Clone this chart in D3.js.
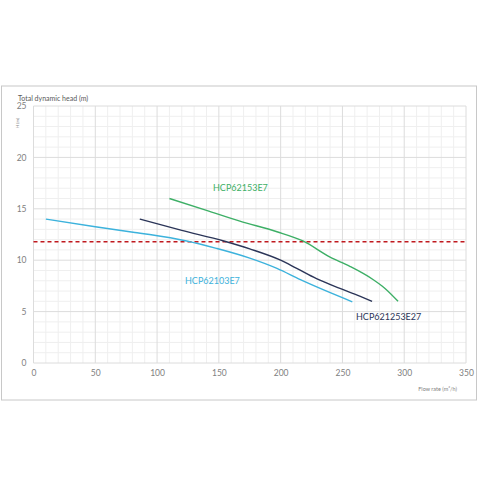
<!DOCTYPE html>
<html>
<head>
<meta charset="utf-8">
<script src="https://cdn.jsdelivr.net/npm/d3@7"></script>
<style>
  body { margin: 0; background: #fff; }
  text { font-family: Lato, "Open Sans", sans-serif; }
</style>
</head>
<body>
<div id="chart"></div>
<script>
// Pump curves (flow m3/h, head m)
const hcp62103Flow = [10, 50, 82, 94, 124, 148, 175, 197, 216, 258];
const hcp62103Head = [14.0, 13.25, 12.7, 12.5, 11.87, 11.15, 10.2, 9.2, 8.1, 5.95];

const hcp621253Flow = [86, 120, 154, 175, 200, 213, 229, 248, 264, 274];
const hcp621253Head = [14.0, 12.9, 11.87, 11.1, 10.0, 9.2, 8.2, 7.25, 6.5, 6.0];

const hcp62153Flow = [110, 140, 167, 197, 218, 240, 256, 275, 284, 295];
const hcp62153Head = [16.0, 14.85, 13.8, 12.77, 11.87, 10.3, 9.4, 8.1, 7.3, 6.0];

const dutyHead = 11.8;

const xTicks = [0, 50, 100, 150, 200, 250, 300, 350];
const yTicks = [0, 5, 10, 15, 20, 25];

const W = 480, H = 480;
const margin = { top: 106, right: 14, bottom: 117, left: 33.5 };
const width = W - margin.left - margin.right;
const height = H - margin.top - margin.bottom;

const svg = d3.select("#chart").append("svg")
    .attr("width", W)
    .attr("height", H);

svg.append("rect").attr("width", W).attr("height", H).attr("fill", "#fff");

// outer frame
svg.append("rect")
    .attr("x", 1.5).attr("y", 86)
    .attr("width", 475).attr("height", 314)
    .attr("fill", "none")
    .attr("stroke", "#c8c8c8")
    .attr("stroke-width", 1);

const g = svg.append("g")
    .attr("transform", `translate(${margin.left},${margin.top})`);

const x = d3.scaleLinear().domain([0, 350]).range([0, width]);
const y = d3.scaleLinear().domain([0, 25]).range([height, 0]);

// minor grid
g.append("g").selectAll("line")
    .data(d3.range(0, 351, 10).filter(v => v % 50 !== 0))
    .join("line")
    .attr("x1", d => x(d)).attr("x2", d => x(d))
    .attr("y1", 0).attr("y2", height)
    .attr("stroke", "#efefef");
g.append("g").selectAll("line")
    .data(d3.range(0, 26, 1).filter(v => v % 5 !== 0))
    .join("line")
    .attr("y1", d => y(d)).attr("y2", d => y(d))
    .attr("x1", 0).attr("x2", width)
    .attr("stroke", "#efefef");

// major grid
g.append("g").selectAll("line")
    .data(xTicks)
    .join("line")
    .attr("x1", d => x(d)).attr("x2", d => x(d))
    .attr("y1", 0).attr("y2", height)
    .attr("stroke", "#dcdcdc");
g.append("g").selectAll("line")
    .data(yTicks)
    .join("line")
    .attr("y1", d => y(d)).attr("y2", d => y(d))
    .attr("x1", 0).attr("x2", width)
    .attr("stroke", "#dcdcdc");

// axes (labels only)
const xAxis = g.append("g")
    .attr("transform", `translate(0,${height})`)
    .call(d3.axisBottom(x).tickValues(xTicks).tickSize(0).tickPadding(7));
const yAxis = g.append("g")
    .call(d3.axisLeft(y).tickValues(yTicks).tickSize(0).tickPadding(7));
[xAxis, yAxis].forEach(a => {
    a.select(".domain").remove();
    a.selectAll("text")
        .attr("fill", "#808080")
        .style("font-size", "8.5px")
        .style("font-family", "Lato, sans-serif");
});

// duty point line
g.append("line")
    .attr("x1", 0).attr("x2", width)
    .attr("y1", y(dutyHead)).attr("y2", y(dutyHead))
    .attr("stroke", "#c0191e")
    .attr("stroke-width", 1.4)
    .attr("stroke-dasharray", "4,3");

const line = d3.line()
    .x(d => x(d[0]))
    .y(d => y(d[1]))
    .curve(d3.curveMonotoneX);

const series = [
    { flow: hcp62103Flow, head: hcp62103Head, color: "#3cb2dc" },
    { flow: hcp621253Flow, head: hcp621253Head, color: "#2b3558" },
    { flow: hcp62153Flow, head: hcp62153Head, color: "#3daf66" }
];

series.forEach(s => {
    g.append("path")
        .datum(s.flow.map((f, i) => [f, s.head[i]]))
        .attr("fill", "none")
        .attr("stroke", s.color)
        .attr("stroke-width", 1.4)
        .attr("d", line);
});

// series labels
svg.append("text").attr("x", 213).attr("y", 191)
    .attr("fill", "#3daf66").style("font-size", "9px").text("HCP62153E7");
svg.append("text").attr("x", 185).attr("y", 284)
    .attr("fill", "#3cb2dc").style("font-size", "9px").text("HCP62103E7");
svg.append("text").attr("x", 356).attr("y", 320)
    .attr("fill", "#2b3558").style("font-size", "9px").text("HCP621253E27");

// axis titles
svg.append("text").attr("x", 18).attr("y", 101)
    .attr("fill", "#595959").style("font-size", "7px").text("Total dynamic head (m)");
svg.append("text")
    .attr("transform", "translate(19,123) rotate(-90)")
    .attr("text-anchor", "middle")
    .attr("fill", "#7f7f7f").style("font-size", "4.5px").text("H (m)");
svg.append("text").attr("x", 457).attr("y", 391)
    .attr("text-anchor", "end")
    .attr("fill", "#7f7f7f").style("font-size", "5.5px").text("Flow rate (m³/h)");
</script>
</body>
</html>
